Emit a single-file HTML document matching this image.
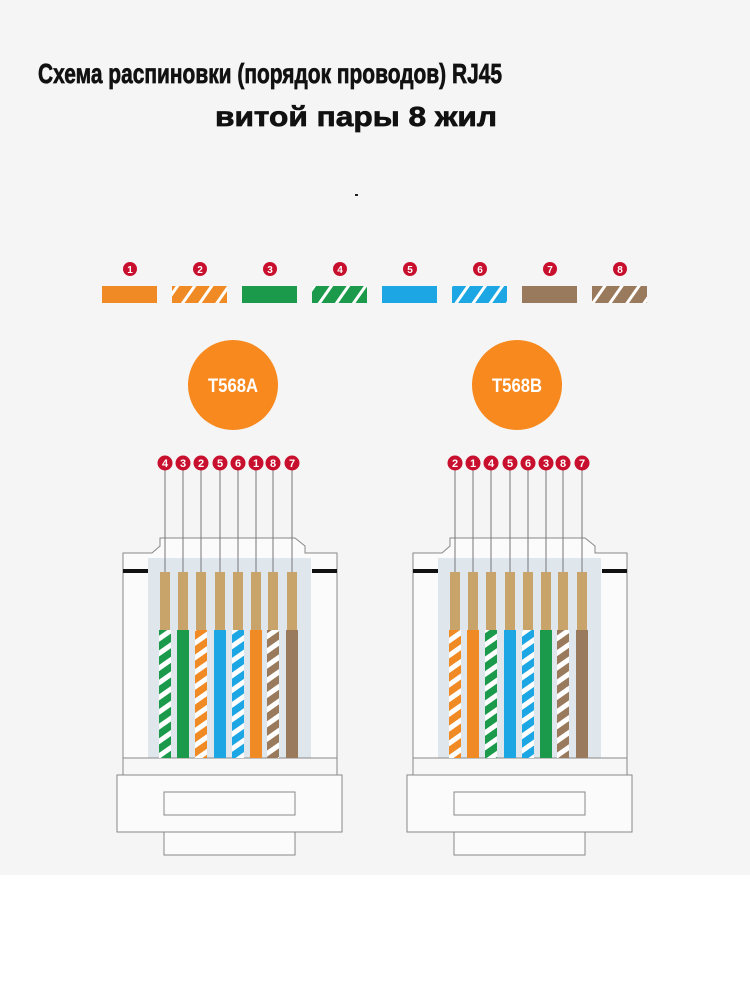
<!DOCTYPE html>
<html><head><meta charset="utf-8"><style>
html,body{margin:0;padding:0;background:#fff}
svg{display:block}
</style></head><body>
<svg width="750" height="1000" viewBox="0 0 750 1000" xmlns="http://www.w3.org/2000/svg">
<defs>
<pattern id="pOr" width="12" height="12" patternUnits="userSpaceOnUse" patternTransform="rotate(-35)"><rect width="12" height="12" fill="#f08a24"/><rect width="12" height="5" fill="#fff"/></pattern>
<pattern id="pGr" width="12" height="12" patternUnits="userSpaceOnUse" patternTransform="rotate(-35)"><rect width="12" height="12" fill="#1a9a4a"/><rect width="12" height="5" fill="#fff"/></pattern>
<pattern id="pBl" width="12" height="12" patternUnits="userSpaceOnUse" patternTransform="rotate(-35)"><rect width="12" height="12" fill="#1ca6e3"/><rect width="12" height="5" fill="#fff"/></pattern>
<pattern id="pBr" width="12" height="12" patternUnits="userSpaceOnUse" patternTransform="rotate(-35)"><rect width="12" height="12" fill="#9a7a5c"/><rect width="12" height="5" fill="#fff"/></pattern>
<pattern id="sOr" width="14" height="14" patternUnits="userSpaceOnUse" patternTransform="rotate(35)"><rect width="14" height="14" fill="#f08a24"/><rect width="3" height="14" fill="#fff"/></pattern>
<pattern id="sGr" width="14" height="14" patternUnits="userSpaceOnUse" patternTransform="rotate(35)"><rect width="14" height="14" fill="#1a9a4a"/><rect width="3" height="14" fill="#fff"/></pattern>
<pattern id="sBl" width="14" height="14" patternUnits="userSpaceOnUse" patternTransform="rotate(35)"><rect width="14" height="14" fill="#1ca6e3"/><rect width="3" height="14" fill="#fff"/></pattern>
<pattern id="sBr" width="14" height="14" patternUnits="userSpaceOnUse" patternTransform="rotate(35)"><rect width="14" height="14" fill="#9a7a5c"/><rect width="3" height="14" fill="#fff"/></pattern>
<g id="conn">
  <path d="M123 772 V553 H152 L160 546 V538 H295 L305 546 V553 H337 V772" fill="#fbfbfb" stroke="#888" stroke-width="1"/>
  <rect x="148" y="558" width="163" height="200" fill="#dfe6ec"/>
  <rect x="123" y="569" width="25" height="4" fill="#111"/>
  <rect x="312" y="569" width="25" height="4" fill="#111"/>
  <rect x="123" y="758" width="214" height="17" fill="#f7f7f7" stroke="#888"/>
  <rect x="117" y="775" width="225" height="57" fill="#fbfbfb" stroke="#888"/>
  <rect x="164" y="792" width="131" height="23" fill="#fbfbfb" stroke="#888"/>
  <rect x="164" y="832" width="131" height="23" fill="#fbfbfb" stroke="#888"/>
</g>
</defs>
<rect width="750" height="875" fill="#f5f5f5"/>
<g font-family="'Liberation Sans','DejaVu Sans',sans-serif" font-weight="bold" fill="#111" stroke="#111" stroke-width="0.7">
<text x="38" y="83" font-size="28" textLength="464" lengthAdjust="spacingAndGlyphs">Схема распиновки (порядок проводов) RJ45</text>
<text x="215" y="126" font-size="28" textLength="282" lengthAdjust="spacingAndGlyphs">витой пары 8 жил</text>
</g>
<rect x="355" y="194" width="3" height="2" fill="#222"/>
<g font-family="'Liberation Sans',sans-serif" font-weight="bold" font-size="10" fill="#fff" text-anchor="middle">
<rect x="102" y="286" width="55" height="17" fill="#f08a24"/>
<rect x="172" y="286" width="55" height="17" fill="url(#sOr)"/>
<rect x="242" y="286" width="55" height="17" fill="#1a9a4a"/>
<rect x="312" y="286" width="55" height="17" fill="url(#sGr)"/>
<rect x="382" y="286" width="55" height="17" fill="#1ca6e3"/>
<rect x="452" y="286" width="55" height="17" fill="url(#sBl)"/>
<rect x="522" y="286" width="55" height="17" fill="#9a7a5c"/>
<rect x="592" y="286" width="55" height="17" fill="url(#sBr)"/>
<g fill="#c8102e"><circle cx="130" cy="269" r="7"/><circle cx="200" cy="269" r="7"/><circle cx="270" cy="269" r="7"/><circle cx="340" cy="269" r="7"/><circle cx="410" cy="269" r="7"/><circle cx="480" cy="269" r="7"/><circle cx="550" cy="269" r="7"/><circle cx="620" cy="269" r="7"/></g>
<text x="130" y="273">1</text><text x="200" y="273">2</text><text x="270" y="273">3</text><text x="340" y="273">4</text><text x="410" y="273">5</text><text x="480" y="273">6</text><text x="550" y="273">7</text><text x="620" y="273">8</text>
</g>
<circle cx="233" cy="385" r="45" fill="#f7891f"/>
<circle cx="517" cy="385" r="45" fill="#f7891f"/>
<g font-family="'Liberation Sans',sans-serif" font-weight="bold" font-size="19" fill="#fff" text-anchor="middle">
<text x="233" y="392" textLength="50" lengthAdjust="spacingAndGlyphs">T568A</text>
<text x="517" y="392" textLength="50" lengthAdjust="spacingAndGlyphs">T568B</text>
</g>
<use href="#conn"/>
<use href="#conn" transform="translate(290,0)"/>
<g stroke="#777" stroke-width="1">
<line x1="165" y1="463" x2="165" y2="575"/><line x1="183" y1="463" x2="183" y2="575"/><line x1="201" y1="463" x2="201" y2="575"/><line x1="220" y1="463" x2="220" y2="575"/><line x1="238" y1="463" x2="238" y2="575"/><line x1="256" y1="463" x2="256" y2="575"/><line x1="273" y1="463" x2="273" y2="575"/><line x1="292" y1="463" x2="292" y2="575"/>
<line x1="455" y1="463" x2="455" y2="575"/><line x1="473" y1="463" x2="473" y2="575"/><line x1="491" y1="463" x2="491" y2="575"/><line x1="510" y1="463" x2="510" y2="575"/><line x1="528" y1="463" x2="528" y2="575"/><line x1="546" y1="463" x2="546" y2="575"/><line x1="563" y1="463" x2="563" y2="575"/><line x1="582" y1="463" x2="582" y2="575"/>
</g>
<g fill="#c9a46a">
<rect x="160" y="572" width="10" height="60"/><rect x="178" y="572" width="10" height="60"/><rect x="196" y="572" width="10" height="60"/><rect x="215" y="572" width="10" height="60"/><rect x="233" y="572" width="10" height="60"/><rect x="251" y="572" width="10" height="60"/><rect x="268" y="572" width="10" height="60"/><rect x="287" y="572" width="10" height="60"/>
<rect x="450" y="572" width="10" height="60"/><rect x="468" y="572" width="10" height="60"/><rect x="486" y="572" width="10" height="60"/><rect x="505" y="572" width="10" height="60"/><rect x="523" y="572" width="10" height="60"/><rect x="541" y="572" width="10" height="60"/><rect x="558" y="572" width="10" height="60"/><rect x="577" y="572" width="10" height="60"/>
</g>
<g>
<rect x="159" y="630" width="12" height="128" fill="url(#pGr)"/>
<rect x="177" y="630" width="12" height="128" fill="#1a9a4a"/>
<rect x="195" y="630" width="12" height="128" fill="url(#pOr)"/>
<rect x="214" y="630" width="12" height="128" fill="#1ca6e3"/>
<rect x="232" y="630" width="12" height="128" fill="url(#pBl)"/>
<rect x="250" y="630" width="12" height="128" fill="#f08a24"/>
<rect x="267" y="630" width="12" height="128" fill="url(#pBr)"/>
<rect x="286" y="630" width="12" height="128" fill="#9a7a5c"/>
<rect x="449" y="630" width="12" height="128" fill="url(#pOr)"/>
<rect x="467" y="630" width="12" height="128" fill="#f08a24"/>
<rect x="485" y="630" width="12" height="128" fill="url(#pGr)"/>
<rect x="504" y="630" width="12" height="128" fill="#1ca6e3"/>
<rect x="522" y="630" width="12" height="128" fill="url(#pBl)"/>
<rect x="540" y="630" width="12" height="128" fill="#1a9a4a"/>
<rect x="557" y="630" width="12" height="128" fill="url(#pBr)"/>
<rect x="576" y="630" width="12" height="128" fill="#9a7a5c"/>
</g>
<g fill="#c8102e">
<circle cx="165" cy="463" r="7.5"/><circle cx="183" cy="463" r="7.5"/><circle cx="201" cy="463" r="7.5"/><circle cx="220" cy="463" r="7.5"/><circle cx="238" cy="463" r="7.5"/><circle cx="256" cy="463" r="7.5"/><circle cx="273" cy="463" r="7.5"/><circle cx="292" cy="463" r="7.5"/>
<circle cx="455" cy="463" r="7.5"/><circle cx="473" cy="463" r="7.5"/><circle cx="491" cy="463" r="7.5"/><circle cx="510" cy="463" r="7.5"/><circle cx="528" cy="463" r="7.5"/><circle cx="546" cy="463" r="7.5"/><circle cx="563" cy="463" r="7.5"/><circle cx="582" cy="463" r="7.5"/>
</g>
<g font-family="'Liberation Sans',sans-serif" font-weight="bold" font-size="11" fill="#fff" text-anchor="middle">
<text x="165" y="467">4</text><text x="183" y="467">3</text><text x="201" y="467">2</text><text x="220" y="467">5</text><text x="238" y="467">6</text><text x="256" y="467">1</text><text x="273" y="467">8</text><text x="292" y="467">7</text>
<text x="455" y="467">2</text><text x="473" y="467">1</text><text x="491" y="467">4</text><text x="510" y="467">5</text><text x="528" y="467">6</text><text x="546" y="467">3</text><text x="563" y="467">8</text><text x="582" y="467">7</text>
</g>
</svg>
</body></html>
